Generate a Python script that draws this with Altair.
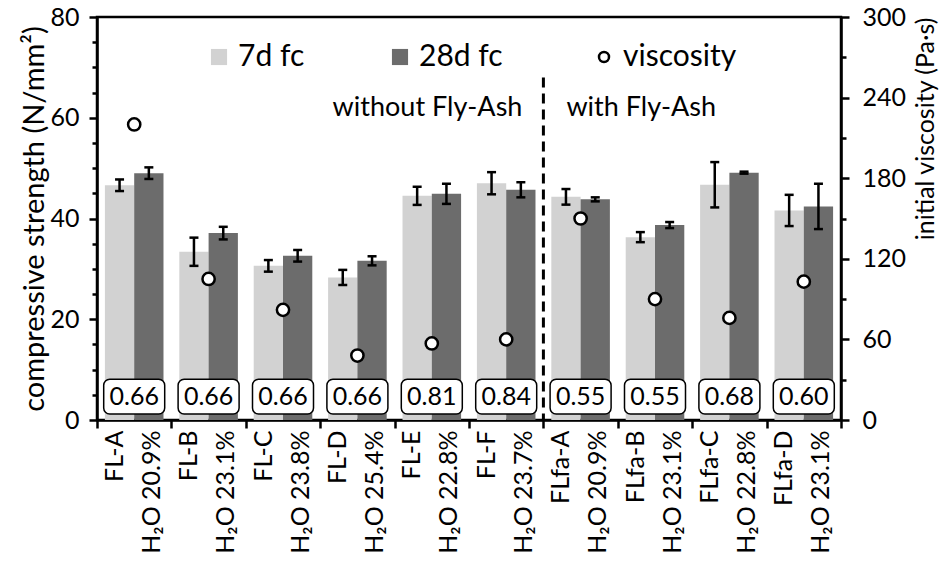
import altair as alt
import pandas as pd

# ---------------- data ----------------
names = ["FL-A", "FL-B", "FL-C", "FL-D", "FL-E", "FL-F", "FLfa-A", "FLfa-B", "FLfa-C", "FLfa-D"]
water = ["20.9%", "23.1%", "23.8%", "25.4%", "22.8%", "23.7%", "20.9%", "23.1%", "22.8%", "23.1%"]
fc7 = [46.6, 33.4, 30.6, 28.3, 44.5, 47.0, 44.3, 36.3, 46.7, 41.6]
fc7_err = [1.15, 2.8, 1.15, 1.5, 1.8, 2.2, 1.55, 1.0, 4.5, 3.1]
fc28 = [49.0, 37.1, 32.6, 31.6, 44.9, 45.7, 43.8, 38.7, 49.1, 42.4]
fc28_err = [1.15, 1.25, 1.15, 0.9, 2.0, 1.5, 0.4, 0.6, 0.2, 4.5]
viscosity = [220, 105, 82, 48, 57, 60, 150, 90, 76, 103]
wc_ratio = ["0.66", "0.66", "0.66", "0.66", "0.81", "0.84", "0.55", "0.55", "0.68", "0.60"]
series_names = ["7d fc", "28d fc"]
series_colors = ["#d2d2d2", "#6c6c6c"]

cats = [f"{n}|H\u2082O {w}" for n, w in zip(names, water)]

bars_df = pd.DataFrame({
    "cat": cats * 2,
    "series": [series_names[0]] * len(cats) + [series_names[1]] * len(cats),
    "value": fc7 + fc28,
    "err": fc7_err + fc28_err,
})
visc_df = pd.DataFrame({"cat": cats, "visc": viscosity, "vlabel": ["viscosity"] * len(cats)})
ratio_df = pd.DataFrame({"cat": cats, "ratio": wc_ratio})
sep_df = pd.DataFrame({"cat": [cats[6]]})

FONT = "Lato"
BLACK = "#000000"

xscale = alt.Scale(domain=cats, paddingInner=0, paddingOuter=0)
x_axis = alt.Axis(
    title=None,
    labelExpr="split(datum.label, '|')",
    labelAngle=270,
    labelAlign="right",
    labelBaseline="middle",
    labelFontSize=25,
    labelLineHeight=37,
    labelOffset=-20,
    labelFont=FONT,
    labelColor=BLACK,
    labelPadding=2,
    tickBand="extent",
    tickSize=8,
    tickWidth=2.5,
    tickColor=BLACK,
    domainWidth=2.5,
    domainColor=BLACK,
    labelLimit=300,
)
x_main = alt.X("cat:N", sort=cats, scale=xscale, axis=x_axis)
x_sep = alt.X("cat:N", sort=cats, scale=xscale, axis=x_axis, bandPosition=0)

yscale = alt.Scale(domain=[0, 80], nice=False)
y_axis = alt.Axis(
    title="compressive strength (N/mm\u00b2)",
    titleFont=FONT,
    titleFontSize=29,
    titleFontWeight="normal",
    titleColor=BLACK,
    titlePadding=0,
    values=list(range(0, 81, 5)),
    labelExpr="datum.value % 20 === 0 ? datum.label : ''",
    labelFont=FONT,
    labelFontSize=25,
    labelColor=BLACK,
    labelPadding=10,
    tickSize={"condition": {"test": "datum.value % 20 === 0", "value": 8}, "value": 5},
    tickWidth=2.5,
    tickColor=BLACK,
    domainWidth=2.5,
    domainColor=BLACK,
    grid=False,
)

xoff = alt.XOffset("series:N", sort=series_names,
                   scale=alt.Scale(domain=series_names, paddingInner=0, paddingOuter=0.27))

base = alt.Chart(bars_df)

bars = base.mark_bar().encode(
    x=x_main,
    xOffset=xoff,
    y=alt.Y("value:Q", scale=yscale, axis=y_axis),
    color=alt.Color(
        "series:N",
        scale=alt.Scale(domain=series_names, range=series_colors),
        legend=alt.Legend(
            title=None, orient="none", legendX=107, legendY=25, direction="horizontal",
            symbolType="square", symbolSize=260, symbolStrokeWidth=0,
            labelFont=FONT, labelFontSize=30, labelColor=BLACK, labelOffset=4,
            columnPadding=80,
        ),
    ),
)

err_rule = base.transform_calculate(
    lo="datum.value - datum.err", hi="datum.value + datum.err"
).mark_rule(color=BLACK, strokeWidth=2.5).encode(
    x=x_main,
    xOffset=xoff,
    y=alt.Y("lo:Q", scale=yscale, axis=y_axis),
    y2="hi:Q",
)

err_caps = base.transform_calculate(
    lo="datum.value - datum.err", hi="datum.value + datum.err"
).transform_fold(["lo", "hi"], as_=["end", "yv"]).mark_tick(
    color=BLACK, thickness=2.5, size=9, orient="horizontal", opacity=1
).encode(
    x=x_main,
    xOffset=xoff,
    y=alt.Y("yv:Q", scale=yscale, axis=y_axis),
)

boxes = alt.Chart(ratio_df).mark_bar(
    width=61, fill="white", stroke=BLACK, strokeWidth=1.5, cornerRadius=6
).encode(
    x=x_main,
    y=alt.YDatum(1.2, scale=yscale, axis=y_axis),
    y2=alt.Y2Datum(8.1),
)

box_text = alt.Chart(ratio_df).mark_text(
    font=FONT, fontSize=25, color=BLACK, baseline="middle", align="center"
).encode(
    x=x_main,
    y=alt.YDatum(4.66, scale=yscale, axis=y_axis),
    text="ratio:N",
)

sep_rule = alt.Chart(sep_df).mark_rule(color=BLACK, strokeWidth=3, strokeDash=[10, 6]).encode(
    x=x_sep,
    y=alt.YDatum(68, scale=yscale, axis=y_axis),
    y2=alt.Y2Datum(0),
)

ann_left = alt.Chart(sep_df).mark_text(
    text="without Fly-Ash", font=FONT, fontSize=27, color=BLACK, align="right", baseline="middle", dx=-21
).encode(x=x_sep, y=alt.YDatum(61.9, scale=yscale, axis=y_axis))

ann_right = alt.Chart(sep_df).mark_text(
    text="with Fly-Ash", font=FONT, fontSize=27, color=BLACK, align="left", baseline="middle", dx=23
).encode(x=x_sep, y=alt.YDatum(61.9, scale=yscale, axis=y_axis))

left_layer = alt.layer(bars, err_rule, err_caps, boxes, box_text, sep_rule, ann_left, ann_right)

points = alt.Chart(visc_df).mark_point(
    filled=False, fill="white", strokeWidth=2.5, size=150, opacity=1
).encode(
    x=x_main,
    y=alt.Y(
        "visc:Q",
        scale=alt.Scale(domain=[0, 300], nice=False),
        axis=alt.Axis(
            orient="right",
            title="initial viscosity (Pa\u00b7s)",
            titleFont=FONT, titleFontSize=25, titleFontWeight="normal", titleColor=BLACK,
            titleAngle=270, titleAnchor="end", titleBaseline="top", titlePadding=8,
            values=list(range(0, 301, 30)),
            labelExpr="datum.value % 60 === 0 ? datum.label : ''",
            labelFont=FONT, labelFontSize=25, labelColor=BLACK, labelPadding=13,
            tickSize={"condition": {"test": "datum.value % 60 === 0", "value": 8}, "value": 5},
            tickWidth=2.5, tickColor=BLACK, domainWidth=2.5, domainColor=BLACK, grid=False,
        ),
    ),
    stroke=alt.Stroke(
        "vlabel:N",
        scale=alt.Scale(domain=["viscosity"], range=[BLACK]),
        legend=alt.Legend(
            title=None, orient="none", legendX=492, legendY=25,
            symbolType="circle", symbolSize=100, symbolStrokeWidth=2.5, symbolFillColor="white",
            labelFont=FONT, labelFontSize=30, labelColor=BLACK, labelOffset=4,
        ),
    ),
)

chart = alt.layer(left_layer, points).resolve_scale(y="independent").properties(
    width=744,
    height=403,
    autosize="none",
    padding={"left": 97, "top": 17, "right": 100, "bottom": 144},
    background="white",
).configure_view(stroke=BLACK, strokeWidth=2.5)

chart.save("out.html", embed_options={"renderer": "svg", "actions": False})
